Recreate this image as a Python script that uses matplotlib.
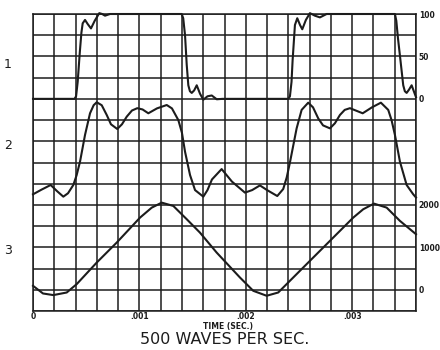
import matplotlib
matplotlib.use('Agg')
import matplotlib.pyplot as plt
from matplotlib.ticker import MultipleLocator, FixedLocator

# curve 1 - percent (0..100), time in sec
t1 = [0, 0.00039, 0.000405, 0.00042, 0.00044, 0.000455, 0.000467, 0.000489, 0.000515,
      0.000545, 0.00058, 0.000623, 0.00065, 0.000677, 0.0007, 0.000724, 0.00077,
      0.001398, 0.001412, 0.001429, 0.001445, 0.00146, 0.001475, 0.001492, 0.001515,
      0.001539, 0.00157, 0.001601, 0.00164, 0.00168, 0.001727, 0.00178,
      0.0024, 0.002415, 0.00243, 0.00244, 0.002462, 0.002484, 0.00251, 0.002531,
      0.002565, 0.002603, 0.00265, 0.002697, 0.00276, 0.0028,
      0.003402, 0.003415, 0.00343, 0.003449, 0.00348, 0.003495, 0.003512, 0.003535,
      0.003559, 0.0036]
v1 = [0, 0, 3, 20, 55, 78, 89, 93, 88,
      83, 92, 101, 100, 98, 99, 100, 100,
      100, 95, 75, 40, 16, 9, 7, 10,
      16, 6, -1, 3, 4, -0.5, 0,
      0, 3, 20, 45, 87, 95, 87, 82,
      93, 101, 98, 96, 100, 100,
      100, 92, 72, 51, 16, 9, 7, 11,
      16, 2]

# curve 2 - no scale given, values in grid divisions
t2 = [0, 0.00008, 0.000166, 0.000226, 0.000285, 0.000329, 0.000379, 0.00041, 0.000442,
      0.000489, 0.000536, 0.00057, 0.000599, 0.000646, 0.000693, 0.000733, 0.000792,
      0.000836, 0.000881, 0.00093, 0.00098, 0.00103, 0.001084, 0.001165, 0.001257,
      0.001306, 0.001366, 0.0014, 0.001429, 0.001476, 0.001523, 0.001601, 0.00164,
      0.001682, 0.001773, 0.00187, 0.001992, 0.00206, 0.002133, 0.0022, 0.002296,
      0.002352, 0.002385, 0.002415, 0.002478, 0.002525, 0.002587, 0.002632, 0.002681,
      0.002726, 0.002791, 0.002838, 0.002885, 0.00293, 0.002979, 0.003099, 0.003186,
      0.00327, 0.003339, 0.00337, 0.003402, 0.003449, 0.003512, 0.003574, 0.0036]
v2 = [5.5, 5.72, 5.94, 5.65, 5.39, 5.55, 5.94, 6.4, 7.04,
      8.3, 9.32, 9.7, 9.84, 9.7, 9.24, 8.8, 8.58,
      8.8, 9.16, 9.45, 9.56, 9.5, 9.32, 9.55, 9.71,
      9.55, 9.0, 8.4, 7.51, 6.41, 5.7, 5.39, 5.7,
      6.2, 6.69, 6.1, 5.58, 5.7, 5.92, 5.7, 5.42,
      5.75, 6.3, 7.0, 8.61, 9.48, 9.82, 9.6, 9.08,
      8.75, 8.61, 8.85, 9.24, 9.48, 9.56, 9.32, 9.6,
      9.82, 9.48, 9.0, 8.3, 7.04, 5.94, 5.5, 5.35]

# curve 3 - 0..2000 scale
t3 = [0, 0.000094, 0.000191, 0.000317, 0.000411, 0.000599, 0.000787, 0.001006, 0.001116,
      0.00121, 0.001319, 0.001445, 0.001569, 0.001726, 0.001945, 0.00207, 0.002196,
      0.002305, 0.002384, 0.002572, 0.002791, 0.00301, 0.003104, 0.003205, 0.003324,
      0.003449, 0.0036]
v3 = [94, -87, -125, -64, 134, 642, 1113, 1701, 1936,
      2054, 1976, 1663, 1348, 878, 290, -24, -141,
      -64, 134, 605, 1153, 1701, 1898, 2031, 1937,
      1624, 1310]

xtick_vals = [0, 0.001, 0.002, 0.003]
xtick_labels = ['0', '.001', '.002', '.003']
ticks1 = [0, 50, 100]
ticks3 = [0, 1000, 2000]

ink = '#1c1c1c'
fig = plt.figure(figsize=(4.4, 3.5), dpi=100)
ax = fig.add_axes([33/440, 39/350, 383/440, 297/350])
ax.set_xlim(0, 0.0036)
ax.set_ylim(0, 14)
ax.xaxis.set_minor_locator(MultipleLocator(0.0002))
ax.xaxis.set_major_locator(FixedLocator(xtick_vals))
ax.set_xticklabels(xtick_labels)
ax.yaxis.set_major_locator(MultipleLocator(1))
ax.set_yticklabels([])
ax.grid(which='both', color=ink, lw=1.1)
ax.tick_params(which='both', length=0, labelsize=5.5, pad=1, colors=ink)
for lab in ax.get_xticklabels():
    lab.set_fontweight('bold')
for s in ax.spines.values():
    s.set_color(ink)
    s.set_linewidth(1.1)
ax.plot(t2, v2, color=ink, lw=1.5, clip_on=False)

# curve 1 axis
ax1 = ax.twinx()
ax1.set_ylim(-250, 100)
ax1.plot(t1, v1, color=ink, lw=1.5, clip_on=False)
ax1.set_yticks(ticks1)
ax1.tick_params(length=0, labelsize=5.5, pad=2, colors=ink)
for lab in ax1.get_yticklabels():
    lab.set_fontweight('bold')

# curve 3 axis
ax3 = ax.twinx()
ax3.set_ylim(-500, 6500)
ax3.plot(t3, v3, color=ink, lw=1.5, clip_on=False)
ax3.set_yticks(ticks3)
ax3.tick_params(length=0, labelsize=5.5, pad=2, colors=ink)
for lab in ax3.get_yticklabels():
    lab.set_fontweight('bold')
for a in (ax1, ax3):
    for s in a.spines.values():
        s.set_visible(False)

fig.text(8/440, 1 - 65/350, '1', fontsize=9, color=ink, ha='center', va='center')
fig.text(8/440, 1 - 145/350, '2', fontsize=9, color=ink, ha='center', va='center')
fig.text(8/440, 1 - 250/350, '3', fontsize=9, color=ink, ha='center', va='center')
fig.text(228/440, 1 - 327/350, 'TIME (SEC.)', fontsize=5.5, fontweight='bold',
         color=ink, ha='center', va='center')
fig.text(225/440, 1 - 340/350, '500 WAVES PER SEC.', fontsize=11.5,
         color=ink, ha='center', va='center')

fig.savefig('out.png', dpi=100, facecolor='white')
